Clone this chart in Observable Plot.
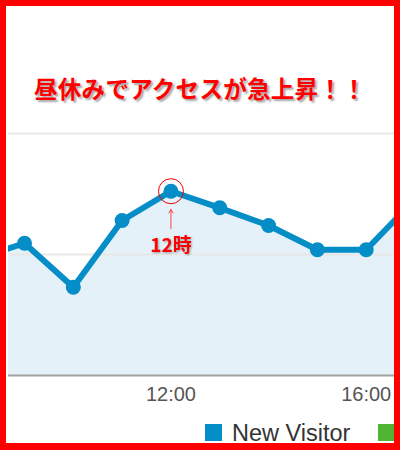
<!DOCTYPE html>
<html>
<head>
<meta charset="utf-8">
<script src="https://cdn.jsdelivr.net/npm/d3@7"></script>
<script src="https://cdn.jsdelivr.net/npm/@observablehq/plot@0.6"></script>
<style>
  html, body { margin: 0; padding: 0; background: #fff; }
  #frame {
    position: relative; box-sizing: border-box; width: 400px; height: 450px;
    border: 6px solid #ff0000; border-bottom-width: 7px; overflow: hidden; background: #fff;
  }
  #title {
    position: absolute; left: 0; right: 0; top: 71px; text-align: center;
    font-family: "Noto Sans CJK JP", sans-serif; font-weight: bold; font-size: 23.5px; line-height: 23px;
    letter-spacing: 0.3px;
    color: #ff0000; text-shadow: 2px 2px 2px rgba(0,0,0,0.35); white-space: nowrap;
  }
  #chart { position: absolute; left: 0; top: 114px; }
  #legend { position: absolute; left: 0; top: 416px; width: 388px; height: 30px; }
  .sw { position: absolute; width: 17px; height: 17px; top: 2px; }
  .lt { position: absolute; top: 0; font-family: "Liberation Sans", Arial, sans-serif; font-size: 23.5px; line-height: 23px; color: #333; white-space: nowrap; }
</style>
</head>
<body>
<div id="frame">
  <div id="title"></div>
  <div id="chart"></div>
  <div id="legend"></div>
</div>
<script>
const titleText = "昼休みでアクセスが急上昇！！";
const hours = [8, 9, 10, 11, 12, 13, 14, 15, 16, 17];
const visitors = [9.6, 10.93, 7.3, 12.81, 15.23, 13.86, 12.4, 10.39, 10.39, 14.56];
const tickHours = [12, 16];
const gridValues = [10, 20];
const seriesNames = ["New Visitor", "Returning Visitor"];
const seriesColors = ["#058dc7", "#50b432"];
const noteHour = 12;
const noteLabel = "12時";
const noteArrow = [12.15, 13.72];
const noteLabelY = 10.75;

document.getElementById("title").textContent = titleText;

const data = hours.map((h, i) => ({h, v: visitors[i]}));
const note = data.filter(d => d.h === noteHour).map(d => ({...d, label: noteLabel, a1: noteArrow[0], a2: noteArrow[1], ly: noteLabelY}));

const chart = Plot.plot({
  width: 388, height: 300,
  marginLeft: 2, marginRight: 0, marginTop: 13, marginBottom: 45,
  x: {domain: [8.672, 16.58], label: null},
  y: {domain: [0, 20], axis: null},
  style: {fontFamily: "'Liberation Sans', Arial, sans-serif", fontSize: "20px", background: "transparent", overflow: "visible"},
  marks: [
    Plot.areaY(data, {x: "h", y: "v", fill: "#e4f1f9", clip: true}),
    Plot.ruleY(gridValues, {stroke: "#e8e8e8", strokeWidth: 2}),
    Plot.ruleY([0], {stroke: "#a0a0a0", strokeWidth: 2}),
    Plot.lineY(data, {x: "h", y: "v", stroke: seriesColors[0], strokeWidth: 6, clip: true}),
    Plot.dot(data, {x: "h", y: "v", r: 7.5, fill: seriesColors[0], stroke: "none", clip: true}),
    Plot.dot(note, {x: "h", y: "v", r: 12.5, fill: "none", stroke: "#ee0000", strokeWidth: 1}),
    Plot.arrow(note, {x1: "h", x2: "h", y1: "a1", y2: "a2", stroke: "#ff4444", strokeWidth: 1, headLength: 6, bend: 0}),
    Plot.text(note, {x: "h", y: "ly", text: "label", fill: "#ff0000", fontSize: 19, fontWeight: "bold", fontFamily: "Noto Sans CJK JP"}),
    Plot.axisX({ticks: tickHours, tickFormat: d => d + ":00", tickSize: 0, tickPadding: 11, fill: "#555", label: null})
  ]
});
const tg = chart.querySelector('g[aria-label="text"]');
if (tg) tg.style.filter = "drop-shadow(1px 1px 1px rgba(0,0,0,0.35))";
document.getElementById("chart").appendChild(chart);

// legend: the second entry's label lies beyond the frame's right edge, only its swatch shows
const legend = document.getElementById("legend");
const legendX = [199, 371.5];
seriesNames.forEach((name, i) => {
  const sw = document.createElement("div");
  sw.className = "sw"; sw.style.left = legendX[i] + "px"; sw.style.background = seriesColors[i];
  sw.title = name;
  legend.appendChild(sw);
  if (i === 0) {
    const t = document.createElement("div");
    t.className = "lt"; t.style.left = (legendX[i] + 27) + "px"; t.textContent = name;
    legend.appendChild(t);
  }
});
</script>
</body>
</html>
